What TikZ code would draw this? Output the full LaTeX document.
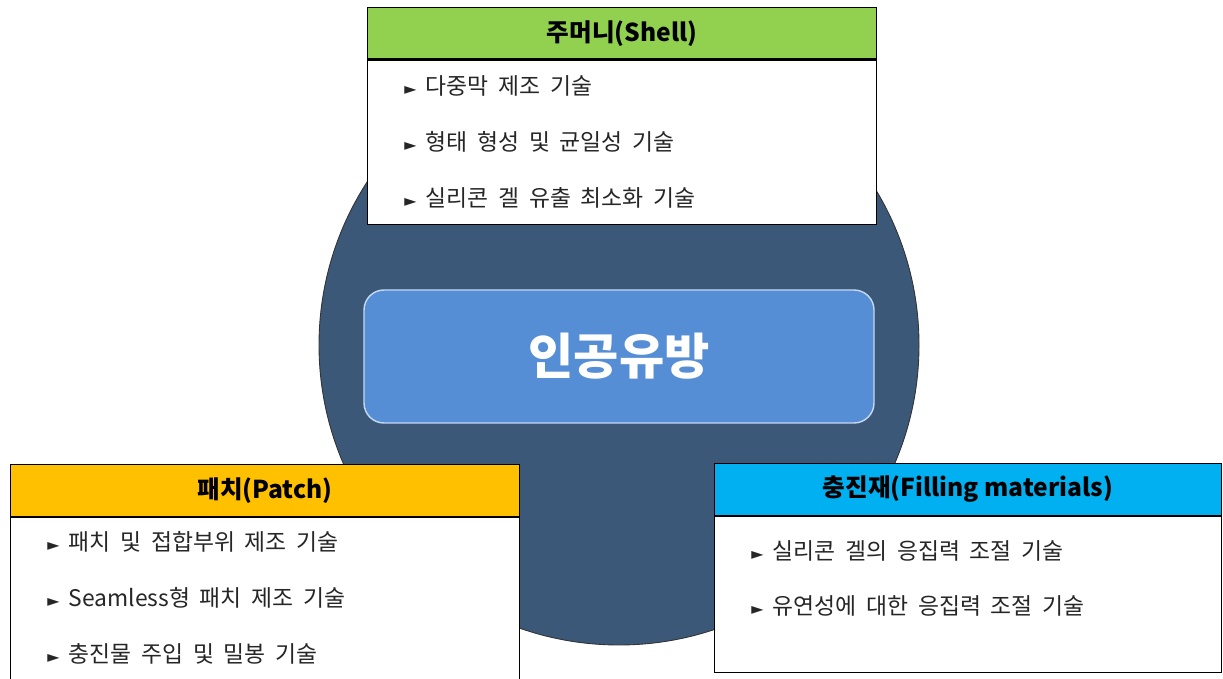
\documentclass[tikz,border=0pt]{standalone}
\usepackage{fontspec}
\setmainfont[WordSpace=1.9]{Noto Sans CJK KR}
\newfontfamily\headf{Noto Sans CJK KR}
\newfontfamily\symf{DejaVu Sans}
\usetikzlibrary{positioning}

\definecolor{ringblue}{HTML}{3B5879}
\definecolor{coreblue}{HTML}{558ED5}
\definecolor{coreline}{HTML}{C6D9F1}
\definecolor{shellgreen}{HTML}{92D050}
\definecolor{patchorange}{HTML}{FFC000}
\definecolor{fillblue}{HTML}{00B0F0}

\newcommand{\tri}{{\symf\fontsize{9}{9}\selectfont ►}\hspace{0.4em}}

\begin{document}
\begin{tikzpicture}[
  node distance=0pt,
  head/.style={rectangle, draw=black, line width=0.6pt, minimum width=10.18cm, minimum height=1.03cm, font=\headf\fontsize{14}{16}\selectfont\bfseries, inner sep=0pt},
  body/.style={rectangle, draw=black, line width=0.6pt, fill=white, minimum width=10.18cm, inner sep=0pt},
  item/.style={anchor=west, inner sep=0pt, font=\fontsize{13}{15}\selectfont, text=black!85}
]
\useasboundingbox (0,0) rectangle (24.46,-13.58);

% 배경 원
\node[circle, draw=black!80, line width=0.5pt, fill=ringblue, minimum size=12cm, inner sep=0pt] (ring) at (12.38,-6.90) {};

% 중심
\node[rectangle, rounded corners=0.4cm, draw=coreline, line width=0.8pt, fill=coreblue, minimum width=10.2cm, minimum height=2.66cm, text=white, font=\fontsize{28}{32}\selectfont\bfseries] (core) at (12.38,-7.13) {인공유방};

% 주머니
\node[head, fill=shellgreen, anchor=north west] (shell) at (7.34,-0.14) {주머니(Shell)};
\node[body, minimum height=3.28cm, below=of shell] (shellbody) {};
\node[item] (s1) at (8.08,-1.72) {\tri 다중막 제조 기술};
\node[item] (s2) at (8.08,-2.84) {\tri 형태 형성 및 균일성 기술};
\node[item] (s3) at (8.08,-3.96) {\tri 실리콘 겔 유출 최소화 기술};

% 패치
\node[head, fill=patchorange, anchor=north west] (patch) at (0.20,-9.28) {패치(Patch)};
\node[body, minimum height=3.26cm, below=of patch] (patchbody) {};
\node[item] (p1) at (0.94,-10.84) {\tri 패치 및 접합부위 제조 기술};
\node[item] (p2) at (0.94,-11.96) {\tri Seamless형 패치 제조 기술};
\node[item] (p3) at (0.94,-13.08) {\tri 충진물 주입 및 밀봉 기술};

% 충진재
\node[head, fill=fillblue, minimum width=10.14cm, anchor=north west] (filling) at (14.28,-9.26) {충진재(Filling materials)};
\node[body, minimum width=10.14cm, minimum height=3.12cm, below=of filling] (fillingbody) {};
\node[item] (f1) at (15.02,-11.02) {\tri 실리콘 겔의 응집력 조절 기술};
\node[item] (f2) at (15.02,-12.12) {\tri 유연성에 대한 응집력 조절 기술};

\end{tikzpicture}
\end{document}
